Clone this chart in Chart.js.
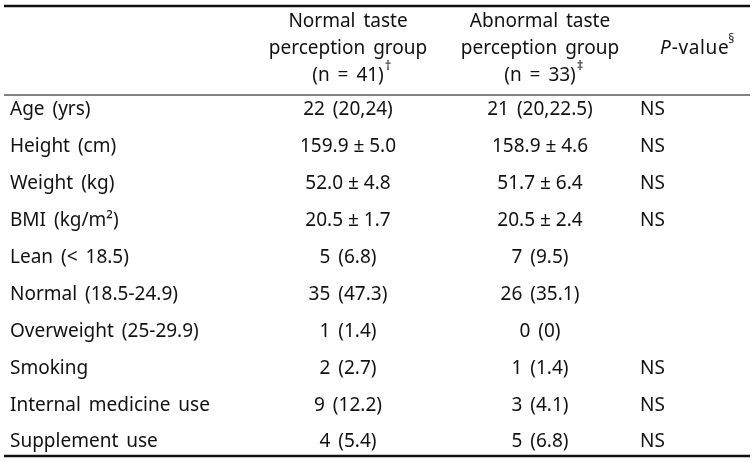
<!DOCTYPE html>
<html>
<head>
<meta charset="utf-8">
<script src="https://cdn.jsdelivr.net/npm/chart.js@4.4.1/dist/chart.umd.min.js"></script>
<style>
  html, body { margin: 0; padding: 0; background: #fff; }
  #wrap { width: 753px; height: 462px; }
</style>
</head>
<body>
<div id="wrap"><canvas id="tbl"></canvas></div>
<script>
// table contents
const rowLabels = ['Age (yrs)', 'Height (cm)', 'Weight (kg)', 'BMI (kg/m²)', 'Lean (< 18.5)',
  'Normal (18.5-24.9)', 'Overweight (25-29.9)', 'Smoking', 'Internal medicine use', 'Supplement use'];
const columnKeys = ['normal', 'abnormal', 'pvalue'];
const normalHead = ['Normal taste', 'perception group', '(n = 41)'];
const abnormalHead = ['Abnormal taste', 'perception group', '(n = 33)'];
const headMarks = ['†', '‡', '§'];
const normalGroup = ['22 (20,24)', '159.9 ± 5.0', '52.0 ± 4.8', '20.5 ± 1.7', '5 (6.8)',
  '35 (47.3)', '1 (1.4)', '2 (2.7)', '9 (12.2)', '4 (5.4)'];
const abnormalGroup = ['21 (20,22.5)', '158.9 ± 4.6', '51.7 ± 6.4', '20.5 ± 2.4', '7 (9.5)',
  '26 (35.1)', '0 (0)', '1 (1.4)', '3 (4.1)', '5 (6.8)'];
const pValues = ['NS', 'NS', 'NS', 'NS', '', '', '', 'NS', 'NS', 'NS'];

const FONT = '"Noto Sans", "Open Sans", sans-serif';
const SIZE = 19;
const INK = '#111';

// one (invisible) point per cell, text gets painted on top of it
function cells(col, texts) {
  return texts.map((t, i) => ({ x: col, y: rowLabels[i], text: t }));
}

const tablePlugin = {
  id: 'tableText',
  beforeDraw(chart) {
    // the source typesets words a little apart
    chart.ctx.wordSpacing = '3px';
  },
  afterDraw(chart) {
    const ctx = chart.ctx;
    const area = chart.chartArea;
    ctx.save();
    ctx.fillStyle = INK;
    ctx.textBaseline = 'middle';

    // rules
    ctx.strokeStyle = '#111';
    ctx.lineWidth = 2.5;
    ctx.beginPath(); ctx.moveTo(4, 6); ctx.lineTo(750, 6); ctx.stroke();
    ctx.beginPath(); ctx.moveTo(4, area.bottom + 14); ctx.lineTo(750, area.bottom + 14); ctx.stroke();
    ctx.strokeStyle = '#5a5a5a';
    ctx.lineWidth = 1.6;
    ctx.beginPath(); ctx.moveTo(4, area.top - 15); ctx.lineTo(750, area.top - 15); ctx.stroke();

    // group headers
    [normalHead, abnormalHead].forEach((head, d) => {
      const x = chart.getDatasetMeta(d).data[0].x;
      ctx.font = SIZE + 'px ' + FONT;
      ctx.textAlign = 'center';
      head.forEach((line, k) => {
        ctx.fillText(line, x, area.top - 88 + k * 27);
      });
      const w = ctx.measureText(head[head.length - 1]).width;
      ctx.font = '13px ' + FONT;
      ctx.textAlign = 'left';
      ctx.fillText(headMarks[d], x + w / 2 + 1, area.top - 34 - 10);
    });

    // P-value header, right edge on the column pixel
    const px = chart.getDatasetMeta(2).data[0].x;
    ctx.font = 'italic ' + SIZE + 'px ' + FONT;
    const wP = ctx.measureText('P').width + 1;
    ctx.font = SIZE + 'px ' + FONT;
    ctx.letterSpacing = '0.6px';
    const wV = ctx.measureText('-value').width;
    ctx.font = '12px ' + FONT;
    const wS = ctx.measureText(headMarks[2]).width;
    const startX = px + 4 - (wP + wV + wS);
    const hy = area.top - 61;
    ctx.textAlign = 'left';
    ctx.font = 'italic ' + SIZE + 'px ' + FONT;
    ctx.fillText('P', startX, hy);
    ctx.font = SIZE + 'px ' + FONT;
    ctx.fillText('-value', startX + wP, hy);
    ctx.letterSpacing = '0px';
    ctx.font = '12px ' + FONT;
    ctx.fillText(headMarks[2], startX + wP + wV - 1, hy - 9);

    // body cells
    ctx.font = SIZE + 'px ' + FONT;
    chart.data.datasets.forEach((ds, d) => {
      const meta = chart.getDatasetMeta(d);
      meta.data.forEach((pt, i) => {
        const t = ds.data[i].text;
        if (!t) return;
        // mean ± sd is set tight in the source
        ctx.wordSpacing = t.includes('±') ? '0px' : '3px';
        if (d < 2) {
          ctx.textAlign = 'center';
          ctx.fillText(t, pt.x, pt.y);
        } else {
          ctx.textAlign = 'left';
          ctx.fillText(t, pt.x - 92, pt.y);
        }
      });
    });
    ctx.restore();
  }
};

new Chart(document.getElementById('tbl'), {
  type: 'scatter',
  data: {
    datasets: [
      { label: 'Normal taste perception group', data: cells('normal', normalGroup) },
      { label: 'Abnormal taste perception group', data: cells('abnormal', abnormalGroup) },
      { label: 'P-value', data: cells('pvalue', pValues) }
    ]
  },
  options: {
    responsive: true,
    maintainAspectRatio: false,
    animation: false,
    events: [],
    elements: { point: { radius: 0 } },
    layout: { padding: { left: 10, right: 21, top: 110, bottom: 20 } },
    plugins: { legend: { display: false }, tooltip: { enabled: false } },
    scales: {
      x: {
        type: 'category',
        labels: columnKeys,
        offset: false,
        display: false
      },
      y: {
        type: 'category',
        labels: rowLabels,
        offset: false,
        grid: { display: false },
        border: { display: false },
        afterFit(scale) { scale.width = 338; },
        ticks: {
          crossAlign: 'far',
          padding: 0,
          color: INK,
          font: { family: FONT, size: SIZE }
        }
      }
    }
  },
  plugins: [tablePlugin]
});
</script>
</body>
</html>
